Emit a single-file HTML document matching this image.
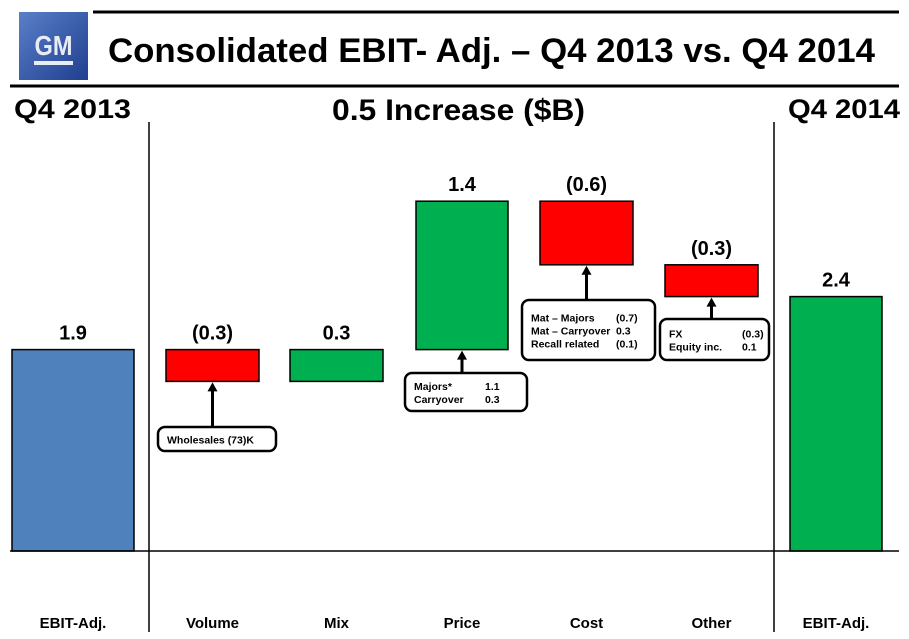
<!DOCTYPE html>
<html><head><meta charset="utf-8"><style>
body{margin:0;background:#fff;width:909px;height:639px;overflow:hidden;font-family:"Liberation Sans",Arial,sans-serif}
svg{display:block}
</style></head><body>
<svg width="909" height="639">
<defs><linearGradient id="lg" x1="0" y1="0" x2="1" y2="1"><stop offset="0" stop-color="#5a7fc8"/><stop offset="1" stop-color="#1f3f8f"/></linearGradient></defs>
<g>
<rect x="19" y="12" width="69" height="68" fill="url(#lg)"/>
<text x="53.5" y="55" text-anchor="middle" font-size="28" font-weight="bold" fill="#e8ecf5" textLength="38" lengthAdjust="spacingAndGlyphs">GM</text>
<rect x="34" y="61" width="39" height="4" fill="#e8ecf5"/>
</g>
<line x1="93" y1="12" x2="899" y2="12" stroke="#000" stroke-width="3"/>
<line x1="10" y1="86" x2="899" y2="86" stroke="#000" stroke-width="3"/>
<text x="108" y="62" font-size="34" font-weight="bold" textLength="767" lengthAdjust="spacingAndGlyphs">Consolidated EBIT- Adj. – Q4 2013 vs. Q4 2014</text>
<text x="14" y="118" font-size="27" font-weight="bold" textLength="117" lengthAdjust="spacingAndGlyphs">Q4 2013</text>
<text x="332" y="120" font-size="30" font-weight="bold" textLength="253" lengthAdjust="spacingAndGlyphs">0.5 Increase ($B)</text>
<text x="788" y="118" font-size="27" font-weight="bold" textLength="112" lengthAdjust="spacingAndGlyphs">Q4 2014</text>
<line x1="149" y1="122" x2="149" y2="632" stroke="#000" stroke-width="1.5"/>
<line x1="774" y1="122" x2="774" y2="632" stroke="#000" stroke-width="1.5"/>
<g id="bars"></g>
<line x1="10" y1="551" x2="899" y2="551" stroke="#000" stroke-width="1.5"/>
<g id="ann" font-size="10.5" font-weight="bold"></g>
</svg>
<script>
const categories=["EBIT-Adj.","Volume","Mix","Price","Cost","Other","EBIT-Adj."];
const deltas=[1.9,-0.3,0.3,1.4,-0.6,-0.3,2.4];
const valueLabels=["1.9","(0.3)","0.3","1.4","(0.6)","(0.3)","2.4"];
const kinds=["total","delta","delta","delta","delta","delta","total"];
const barX=[12,166,290,416,540,665,790];
const barW=[122,93,93,92,93,93,92];
const y0=551, pxPer=106;
const ys=v=>y0-v*pxPer;
const NS="http://www.w3.org/2000/svg";
const g=document.getElementById('bars');
let run=0;
const tops=[];
for(let i=0;i<categories.length;i++){
  let a,b,fill;
  if(kinds[i]==="total"){a=0;b=deltas[i];run=deltas[i];fill=i===0?"#4f81bd":"#00b050";}
  else{a=run;b=run+deltas[i];run=b;fill=deltas[i]<0?"#ff0000":"#00b050";}
  const top=ys(Math.max(a,b)),bot=ys(Math.min(a,b));
  tops.push([top,bot]);
  const r=document.createElementNS(NS,'rect');
  r.setAttribute('x',barX[i]);r.setAttribute('y',top);r.setAttribute('width',barW[i]);r.setAttribute('height',bot-top);
  r.setAttribute('fill',fill);r.setAttribute('stroke','#000');r.setAttribute('stroke-width','1.5');
  
  
  g.appendChild(r);
  const t=document.createElementNS(NS,'text');
  t.setAttribute('x',barX[i]+barW[i]/2);t.setAttribute('y',top-10);t.setAttribute('text-anchor','middle');
  t.setAttribute('font-size','20');t.setAttribute('font-weight','bold');t.textContent=valueLabels[i];
  
  
  g.appendChild(t);
  const c=document.createElementNS(NS,'text');
  c.setAttribute('x',barX[i]+barW[i]/2);c.setAttribute('y',628);c.setAttribute('text-anchor','middle');
  c.setAttribute('font-size','15');c.setAttribute('font-weight','bold');c.textContent=categories[i];
  
  
  g.appendChild(c);
}
const anns=[
 [1,158,427,118,24,[["Wholesales (73)K",""]]],
 [3,405,373,122,38,[["Majors*","1.1"],["Carryover","0.3"]]],
 [4,522,300,133,60,[["Mat – Majors","(0.7)"],["Mat – Carryover","0.3"],["Recall related","(0.1)"]]],
 [5,660,319,109,41,[["FX","(0.3)"],["Equity inc.","0.1"]]]
];
const ag=document.getElementById('ann');
const valX={1:0,3:80,4:94,5:82};
anns.forEach(([bi,x,y,w,h,rows])=>{
  const cx=barX[bi]+barW[bi]/2, bot=tops[bi][1];
  const l=document.createElementNS(NS,'line');
  l.setAttribute('x1',cx);l.setAttribute('x2',cx);l.setAttribute('y1',y);l.setAttribute('y2',bot+8);
  l.setAttribute('stroke','#000');l.setAttribute('stroke-width','3');
  
  
  ag.appendChild(l);
  const p=document.createElementNS(NS,'polygon');
  p.setAttribute('points',`${cx-5},${bot+10} ${cx+5},${bot+10} ${cx},${bot+1}`);
  
  
  ag.appendChild(p);
  const r=document.createElementNS(NS,'rect');
  r.setAttribute('x',x);r.setAttribute('y',y);r.setAttribute('width',w);r.setAttribute('height',h);r.setAttribute('rx',7);
  r.setAttribute('fill','#fff');r.setAttribute('stroke','#000');r.setAttribute('stroke-width','2.5');
  
  
  ag.appendChild(r);
  rows.forEach((row,k)=>{
    const ty=y+(h-rows.length*13)/2+11+k*13;
    const t=document.createElementNS(NS,'text');
    t.setAttribute('x',x+9);t.setAttribute('y',ty);t.textContent=row[0];
    
    
    ag.appendChild(t);
    if(row[1]){const v=document.createElementNS(NS,'text');
      v.setAttribute('x',x+valX[bi]);v.setAttribute('y',ty);v.textContent=row[1];
      
      
      ag.appendChild(v);}
  });
});
</script>
</body></html>
